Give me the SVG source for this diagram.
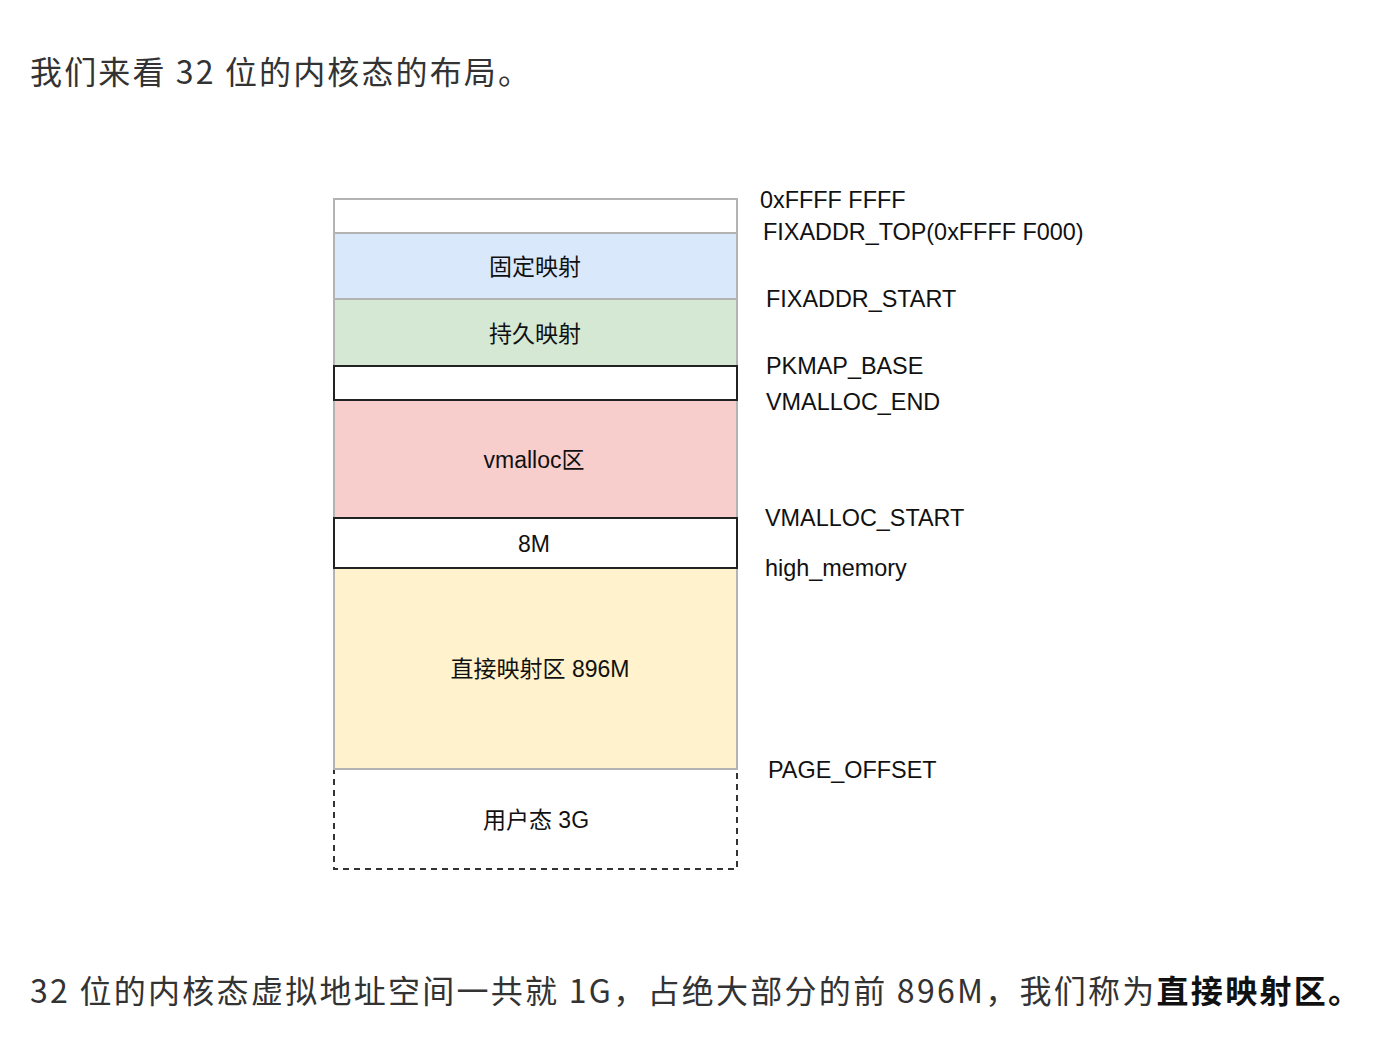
<svg xmlns="http://www.w3.org/2000/svg" width="1381" height="1043" viewBox="0 0 1381 1043">
<style>
.para{font-family:"Noto Sans CJK SC","Noto Sans",sans-serif;font-size:32px;fill:#333}
.bold{font-weight:bold;fill:#111}
.lbl{font-family:"Liberation Sans","Noto Sans CJK SC",sans-serif;font-size:23.4px;fill:#111}
.in{font-family:"Liberation Sans","Noto Sans CJK SC",sans-serif;font-size:23px;fill:#111;text-anchor:middle;dominant-baseline:central}
.g{stroke:#b3b3b3;stroke-width:2}
.k{stroke:#222;stroke-width:2}
</style>
<rect width="1381" height="1043" fill="#fff"/>
<text class="para" x="30" y="84" textLength="500" lengthAdjust="spacing">我们来看 32 位的内核态的布局。</text>

<g id="user">
<rect x="334" y="769" width="403" height="100" fill="#fff" stroke="#333" stroke-width="2" stroke-dasharray="6 5"/>
<text class="in" x="536" y="820">用户态 3G</text>
</g>
<g id="direct">
<rect class="g" x="334" y="568" width="403" height="201" fill="#fff2cc"/>
<text class="in" x="540" y="669">直接映射区 896M</text>
</g>
<g id="vmalloc">
<rect class="g" x="334" y="400" width="403" height="118" fill="#f8cecc"/>
<text class="in" x="534" y="460">vmalloc区</text>
</g>
<g id="gap8m">
<rect class="k" x="334" y="518" width="403" height="50" fill="#fff"/>
<text class="in" x="534" y="544">8M</text>
</g>
<g id="top">
<rect class="g" x="334" y="199" width="403" height="34" fill="#fff"/>
</g>
<g id="fixmap">
<rect class="g" x="334" y="233" width="403" height="66" fill="#dae8fc"/>
<text class="in" x="535" y="267">固定映射</text>
</g>
<g id="pkmap">
<rect class="g" x="334" y="299" width="403" height="67" fill="#d5e8d4"/>
<text class="in" x="535" y="334">持久映射</text>
</g>
<g id="gap">
<rect class="k" x="334" y="366" width="403" height="34" fill="#fff"/>
</g>

<g id="labels">
<text class="lbl" x="760" y="208">0xFFFF FFFF</text>
<text class="lbl" x="763" y="240">FIXADDR_TOP(0xFFFF F000)</text>
<text class="lbl" x="766" y="307">FIXADDR_START</text>
<text class="lbl" x="766" y="374">PKMAP_BASE</text>
<text class="lbl" x="766" y="410">VMALLOC_END</text>
<text class="lbl" x="765" y="526">VMALLOC_START</text>
<text class="lbl" x="765" y="576">high_memory</text>
<text class="lbl" x="768" y="778">PAGE_OFFSET</text>
</g>
<g id="connectors"></g>

<text class="para" x="30" y="1003" textLength="1330" lengthAdjust="spacing">32 位的内核态虚拟地址空间一共就 1G，占绝大部分的前 896M，我们称为<tspan class="bold">直接映射区。</tspan></text>
</svg>
